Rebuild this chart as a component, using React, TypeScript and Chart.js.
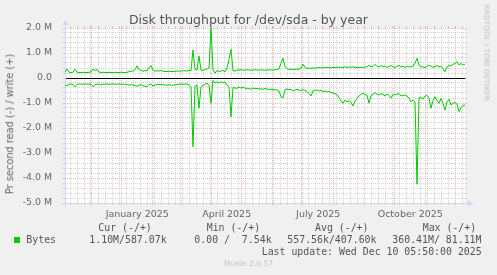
import React, { useEffect, useRef } from "react";
import { Chart, registerables } from "chart.js";

Chart.register(...registerables);

const TITLE = "Disk throughput for /dev/sda - by year";
const Y_TITLE = "Pr second read (-) / write (+)";
const WATERMARK = "RRDTOOL / TOBI OETIKER";
const FOOTER = "Munin 2.0.57";
const LAST_UPDATE = "Last update: Wed Dec 10 05:50:00 2025";
const SERIES_LABEL = "Bytes";
const LEGEND_HEADERS = ["Cur (-/+)", "Min (-/+)", "Avg (-/+)", "Max (-/+)"];
const LEGEND_VALUES = ["1.10M/587.07k", "0.00 /  7.54k", "557.56k/407.60k", "360.41M/ 81.11M"];

// time window: 400 days ending Dec 10 2025 05:50
const WINDOW_START = Date.UTC(2024, 10, 5, 5, 50);
const WINDOW_DAYS = 400;
const SAMPLE_STEP_DAYS = 2;

const Y_MIN = -5;
const Y_MAX = 2;
const Y_MAJOR_STEP = 1;
const Y_MINOR_STEP = 0.2;

const QUARTER_LABELS = [
  { year: 2025, month: 0, text: "January 2025" },
  { year: 2025, month: 3, text: "April 2025" },
  { year: 2025, month: 6, text: "July 2025" },
  { year: 2025, month: 9, text: "October 2025" },
];

// write bytes/s (millions), one value per 2 days
const writeM = [
  0.23, 0.36, 0.23, 0.22, 0.23, 0.35, 0.23, 0.22, 0.22, 0.23,
  0.22, 0.22, 0.23, 0.24, 0.36, 0.30, 0.34, 0.24, 0.22, 0.23,
  0.22, 0.22, 0.23, 0.22, 0.22, 0.23, 0.22, 0.22, 0.23, 0.22,
  0.22, 0.23, 0.25, 0.28, 0.27, 0.33, 0.49, 0.34, 0.30, 0.27,
  0.30, 0.28, 0.40, 0.50, 0.32, 0.27, 0.29, 0.28, 0.30, 0.27,
  0.26, 0.26, 0.27, 0.26, 0.26, 0.27, 0.28, 0.27, 0.28, 0.29,
  0.29, 0.28, 0.30, 0.30, 1.12, 0.35, 0.32, 0.88, 0.32, 0.30,
  0.36, 0.35, 0.40, 2.00, 0.35, 0.19, 0.30, 0.26, 0.28, 0.30,
  0.25, 0.40, 0.75, 1.15, 0.30, 0.28, 0.32, 0.32, 0.33, 0.32,
  0.31, 0.33, 0.32, 0.31, 0.32, 0.33, 0.32, 0.31, 0.33, 0.32,
  0.31, 0.32, 0.33, 0.32, 0.31, 0.34, 0.33, 0.38, 0.59, 0.79,
  0.45, 0.38, 0.34, 0.36, 0.33, 0.35, 0.36, 0.34, 0.40, 0.55,
  0.42, 0.38, 0.40, 0.38, 0.41, 0.39, 0.41, 0.42, 0.40, 0.42,
  0.41, 0.43, 0.41, 0.40, 0.43, 0.42, 0.44, 0.42, 0.43, 0.41,
  0.45, 0.42, 0.44, 0.43, 0.45, 0.41, 0.43, 0.42, 0.43, 0.41,
  0.45, 0.44, 0.51, 0.45, 0.47, 0.55, 0.47, 0.44, 0.50, 0.45,
  0.48, 0.42, 0.46, 0.50, 0.45, 0.42, 0.47, 0.50, 0.44, 0.47,
  0.42, 0.48, 0.44, 0.45, 0.47, 0.60, 0.79, 0.50, 0.45, 0.44,
  0.42, 0.46, 0.52, 0.47, 0.43, 0.45, 0.50, 0.45, 0.47, 0.38,
  0.25, 0.45, 0.50, 0.48, 0.55, 0.58, 0.65, 0.52, 0.58, 0.52,
  0.56,
];

// read bytes/s (millions, drawn negative), one value per 2 days
const readM = [
  -0.28, -0.31, -0.25, -0.24, -0.26, -0.35, -0.26, -0.24, -0.24, -0.25,
  -0.24, -0.24, -0.25, -0.24, -0.34, -0.27, -0.24, -0.26, -0.28, -0.24,
  -0.25, -0.24, -0.26, -0.24, -0.24, -0.25, -0.24, -0.24, -0.25, -0.24,
  -0.25, -0.26, -0.28, -0.27, -0.28, -0.30, -0.33, -0.28, -0.27, -0.30,
  -0.33, -0.35, -0.27, -0.24, -0.32, -0.28, -0.26, -0.27, -0.25, -0.28,
  -0.27, -0.29, -0.27, -0.28, -0.29, -0.27, -0.26, -0.25, -0.24, -0.25,
  -0.24, -0.24, -0.27, -0.35, -2.75, -0.33, -0.28, -1.21, -0.35, -0.30,
  -0.25, -0.20, -0.30, -1.01, -0.10, -0.20, -0.15, -0.20, -0.15, -0.20,
  -0.16, -0.28, -0.35, -1.55, -0.38, -0.40, -0.41, -0.37, -0.40, -0.38,
  -0.40, -0.44, -0.42, -0.45, -0.40, -0.43, -0.42, -0.44, -0.43, -0.45,
  -0.42, -0.44, -0.46, -0.44, -0.48, -0.46, -0.48, -0.52, -0.75, -0.80,
  -0.48, -0.44, -0.46, -0.45, -0.52, -0.48, -0.45, -0.48, -0.50, -0.46,
  -0.50, -0.55, -0.62, -0.72, -0.52, -0.50, -0.48, -0.52, -0.48, -0.55,
  -0.52, -0.56, -0.54, -0.58, -0.60, -0.63, -0.66, -0.78, -0.90, -1.01,
  -0.88, -0.95, -0.90, -0.98, -1.12, -0.92, -0.82, -0.72, -0.65, -0.60,
  -0.66, -0.70, -1.01, -0.70, -0.64, -0.59, -0.65, -0.68, -0.62, -0.66,
  -0.72, -0.64, -0.70, -0.80, -0.66, -0.68, -0.64, -0.62, -0.72, -0.70,
  -0.68, -0.72, -0.80, -0.95, -0.88, -0.95, -4.25, -0.80, -0.78, -0.85,
  -0.72, -0.70, -0.80, -1.21, -0.90, -0.75, -0.90, -1.01, -0.82, -1.01,
  -1.28, -0.95, -0.85, -1.08, -1.01, -0.98, -1.05, -1.35, -1.18, -1.10,
  -1.08,
];

const LINE_COLOR = "#00CC00";
const FONT_COLOR = "#666666";
const AXIS_COLOR = "#CFD6F8";
const GRID_MINOR = "rgba(170,170,170,0.5)";
const GRID_MAJOR = "rgba(235,80,80,0.4)";

const DAY_MS = 86400000;
const dayOf = (ms: number) => (ms - WINDOW_START) / DAY_MS;

function monthStarts(): number[] {
  const out: number[] = [];
  for (let y = 2024; y <= 2026; y++) {
    for (let m = 0; m < 12; m++) {
      const d = dayOf(Date.UTC(y, m, 1));
      if (d >= 0 && d <= WINDOW_DAYS) out.push(d);
    }
  }
  return out;
}

function weekStarts(): number[] {
  const out: number[] = [];
  const s = new Date(WINDOW_START);
  let t = Date.UTC(s.getUTCFullYear(), s.getUTCMonth(), s.getUTCDate());
  while (new Date(t).getUTCDay() !== 1 || t < WINDOW_START) t += DAY_MS;
  for (; dayOf(t) <= WINDOW_DAYS; t += 7 * DAY_MS) out.push(dayOf(t));
  return out;
}

const LABEL_TICKS = QUARTER_LABELS.map((q) => {
  const a = dayOf(Date.UTC(q.year, q.month, 1));
  const b = dayOf(Date.UTC(q.year, q.month + 1, 1));
  return { value: (a + b) / 2, text: q.text };
});

const crisp = (p: number) => Math.floor(p) + 0.5;

const rrdPlugin = {
  id: "rrdLook",
  beforeDraw(chart: any) {
    const { ctx, chartArea: a, width, height } = chart;
    ctx.save();
    ctx.fillStyle = "#F0F0F0";
    ctx.fillRect(0, 0, width, height);
    ctx.fillStyle = "#FFFFFF";
    ctx.fillRect(a.left, a.top, a.right - a.left, a.bottom - a.top);
    ctx.restore();
  },
  beforeDatasetsDraw(chart: any) {
    const { ctx, chartArea: a, scales } = chart;
    const xs = scales.x;
    const ys = scales.y;
    const L = a.left, R = a.right, T = a.top, B = a.bottom;
    ctx.save();
    ctx.lineWidth = 1;

    const hLine = (v: number, color: string) => {
      const y = crisp(ys.getPixelForValue(v));
      ctx.strokeStyle = color;
      ctx.setLineDash([]);
      ctx.beginPath();
      ctx.moveTo(L - 2, y); ctx.lineTo(L, y);
      ctx.moveTo(R, y); ctx.lineTo(R + 2, y);
      ctx.stroke();
      ctx.setLineDash([1, 1]);
      ctx.beginPath();
      ctx.moveTo(L, y); ctx.lineTo(R, y);
      ctx.stroke();
    };
    const vLine = (d: number, color: string) => {
      const x = crisp(xs.getPixelForValue(d));
      ctx.strokeStyle = color;
      ctx.setLineDash([]);
      ctx.beginPath();
      ctx.moveTo(x, B); ctx.lineTo(x, B + 2);
      ctx.moveTo(x, T - 2); ctx.lineTo(x, T);
      ctx.stroke();
      ctx.setLineDash([1, 1]);
      ctx.beginPath();
      ctx.moveTo(x, B); ctx.lineTo(x, T);
      ctx.stroke();
    };

    // minor grid
    const nMinor = Math.round((Y_MAX - Y_MIN) / Y_MINOR_STEP);
    for (let i = 0; i <= nMinor; i++) {
      const v = Y_MIN + i * Y_MINOR_STEP;
      const r = v / Y_MAJOR_STEP;
      if (Math.abs(r - Math.round(r)) < 1e-6) continue;
      hLine(v, GRID_MINOR);
    }
    const months = monthStarts();
    weekStarts().forEach((d) => {
      if (months.some((m) => Math.abs(m - d) < 0.5)) return;
      vLine(d, GRID_MINOR);
    });
    // major grid
    for (let v = Y_MIN; v <= Y_MAX; v += Y_MAJOR_STEP) hLine(v, GRID_MAJOR);
    months.forEach((d) => vLine(d, GRID_MAJOR));

    // zero rule
    ctx.setLineDash([]);
    ctx.strokeStyle = "#000000";
    const y0 = crisp(ys.getPixelForValue(0));
    ctx.beginPath();
    ctx.moveTo(L, y0); ctx.lineTo(R, y0);
    ctx.stroke();

    // axes with arrows
    ctx.strokeStyle = AXIS_COLOR;
    ctx.fillStyle = AXIS_COLOR;
    const yb = crisp(B), xl = crisp(L);
    ctx.beginPath();
    ctx.moveTo(L - 4, yb); ctx.lineTo(R + 4, yb);
    ctx.moveTo(xl, B + 4); ctx.lineTo(xl, T - 4);
    ctx.stroke();
    ctx.beginPath();
    ctx.moveTo(R + 3, yb - 3); ctx.lineTo(R + 8, yb); ctx.lineTo(R + 3, yb + 3);
    ctx.closePath(); ctx.fill();
    ctx.beginPath();
    ctx.moveTo(xl - 3, T - 3); ctx.lineTo(xl, T - 8); ctx.lineTo(xl + 3, T - 3);
    ctx.closePath(); ctx.fill();
    ctx.restore();
  },
};

const abs = (o: any): React.CSSProperties => ({ position: "absolute", whiteSpace: "pre", lineHeight: 1, margin: 0, ...o });

export default function App() {
  const ref = useRef<HTMLCanvasElement | null>(null);

  useEffect(() => {
    if (!ref.current) return;
    const toPoints = (vals: number[]) => vals.map((v, i) => ({ x: i * SAMPLE_STEP_DAYS, y: v }));
    const chart = new Chart(ref.current, {
      type: "line",
      data: {
        datasets: [
          { label: "write", data: toPoints(writeM), borderColor: LINE_COLOR, borderWidth: 1, pointRadius: 0, tension: 0, fill: false },
          { label: "read", data: toPoints(readM), borderColor: LINE_COLOR, borderWidth: 1, pointRadius: 0, tension: 0, fill: false },
        ],
      },
      options: {
        responsive: false,
        animation: false,
        devicePixelRatio: 1,
        layout: { padding: { left: 0, right: 32, top: 28, bottom: 52 } },
        plugins: { legend: { display: false }, tooltip: { enabled: false }, title: { display: false } },
        scales: {
          x: {
            type: "linear",
            min: 0,
            max: WINDOW_DAYS,
            grid: { display: false },
            border: { display: false },
            afterBuildTicks: (s: any) => {
              s.ticks = LABEL_TICKS.map((t) => ({ value: t.value }));
            },
            afterFit: (s: any) => {
              s.height = 20;
            },
            ticks: {
              autoSkip: false,
              maxRotation: 0,
              padding: -2,
              color: FONT_COLOR,
              font: { family: "DejaVu Sans", size: 9.5 },
              callback: (v: any) => {
                const t = LABEL_TICKS.find((l) => Math.abs(l.value - v) < 1e-6);
                return t ? t.text : "";
              },
            },
          },
          y: {
            min: Y_MIN,
            max: Y_MAX,
            grid: { display: false },
            border: { display: false },
            afterFit: (s: any) => {
              s.width = 65;
            },
            ticks: {
              stepSize: Y_MAJOR_STEP,
              padding: 5,
              color: FONT_COLOR,
              font: { family: "DejaVu Sans", size: 9.4 },
              callback: (v: any) => (Number(v) === 0 ? "0.0" : `${Number(v).toFixed(1)} M`),
            },
          },
        },
      },
      plugins: [rrdPlugin],
    });
    return () => chart.destroy();
  }, []);

  const mono = { fontFamily: "'DejaVu Sans Mono', monospace", fontSize: "9.9px", color: "#555555" };
  const headerX = [98.3, 206.7, 315, 422.7];
  const valueX = [89.3, 194.3, 287.3, 392.3];

  return (
    <div style={{ position: "fixed", left: 0, top: 0, width: 497, height: 275, background: "#F0F0F0", overflow: "hidden" }}>
      <canvas ref={ref} width={497} height={275} style={{ position: "absolute", left: 0, top: 0, width: 497, height: 275 }} />
      <div style={abs({ left: 248.5, top: 13.7, transform: "translateX(-50%)", fontFamily: "'DejaVu Sans'", fontSize: "12.5px", color: "#555555" })}>{TITLE}</div>
      <div style={abs({ left: 10, top: 124, transform: "translate(-50%,-50%) rotate(-90deg)", fontFamily: "'DejaVu Sans'", fontSize: "9.8px", color: FONT_COLOR })}>{Y_TITLE}</div>
      <div style={abs({ left: 486.3, top: 53, transform: "translate(-50%,-50%) rotate(90deg)", fontFamily: "'DejaVu Sans'", fontSize: "7px", letterSpacing: "0.3px", color: "#BBBBBB" })}>{WATERMARK}</div>
      {LEGEND_HEADERS.map((h, i) => (
        <div key={h} style={abs({ left: headerX[i], top: 222.9, ...mono })}>{h}</div>
      ))}
      <div style={abs({ left: 14, top: 237, width: 6, height: 6, background: LINE_COLOR })} />
      <div style={abs({ left: 26.3, top: 234.7, ...mono })}>{SERIES_LABEL}</div>
      {LEGEND_VALUES.map((v, i) => (
        <div key={i} style={abs({ left: valueX[i], top: 234.7, ...mono })}>{v}</div>
      ))}
      <div style={abs({ left: 261.7, top: 246.6, ...mono })}>{LAST_UPDATE}</div>
      <div style={abs({ left: 248.5, top: 260.2, transform: "translateX(-50%)", fontFamily: "'DejaVu Sans'", fontSize: "7.5px", color: "#C4C4C4" })}>{FOOTER}</div>
    </div>
  );
}
